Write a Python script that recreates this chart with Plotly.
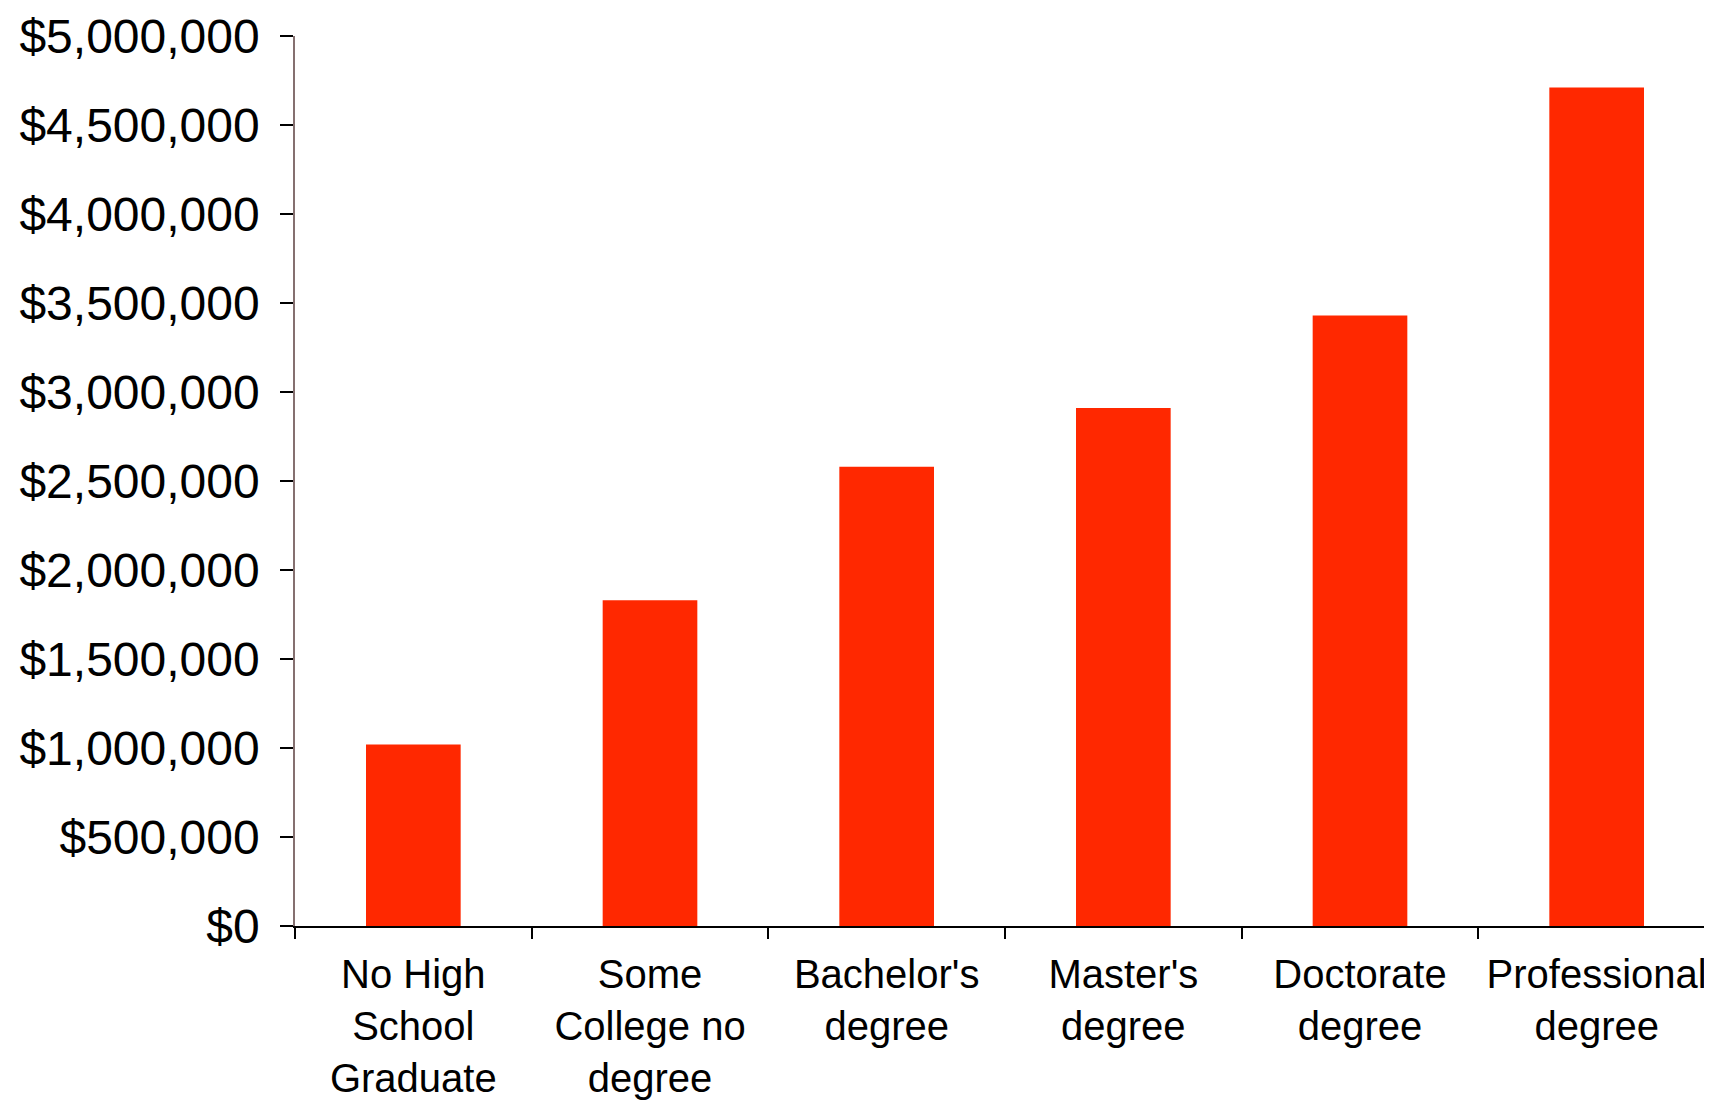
import plotly.graph_objects as go

categories = ["No High<br>School<br>Graduate", "Some<br>College no<br>degree", "Bachelor's<br>degree",
              "Master's<br>degree", "Doctorate<br>degree", "Professional<br>degree"]
earnings = [1020000, 1830000, 2580000, 2910000, 3430000, 4710000]
y_ticks = [0, 500000, 1000000, 1500000, 2000000, 2500000, 3000000, 3500000, 4000000, 4500000, 5000000]

fig = go.Figure(go.Bar(x=categories, y=earnings, marker=dict(color="#FF2800", line=dict(width=0))))

fig.update_layout(
    width=1712, height=1100,
    paper_bgcolor="white", plot_bgcolor="white",
    margin=dict(l=287, r=5, t=28, b=182, autoexpand=False),
    bargap=0.6,
    showlegend=False,
    font=dict(family="Liberation Sans, Arial, sans-serif", color="black"),
)
fig.update_xaxes(
    showline=True, linecolor="black", linewidth=1.5,
    ticks="outside", tickson="boundaries", ticklen=11, tickcolor="black", tickwidth=1.5,
    tickfont=dict(size=40), showgrid=False, range=[-0.5, 5.5],
    ticklabelstandoff=12, automargin=False, ticklabeloverflow="allow",
)
fig.update_yaxes(
    showline=True, linecolor="#857070", linewidth=1.5,
    ticks="outside", ticklen=13, tickcolor="black", tickwidth=1.5,
    tickvals=y_ticks, tickformat="$,.0f",
    tickfont=dict(size=48), showgrid=False, range=[0, 5000000], zeroline=False,
    ticklabelstandoff=11, automargin=False, ticklabeloverflow="allow",
)

fig.write_html("out.html")
